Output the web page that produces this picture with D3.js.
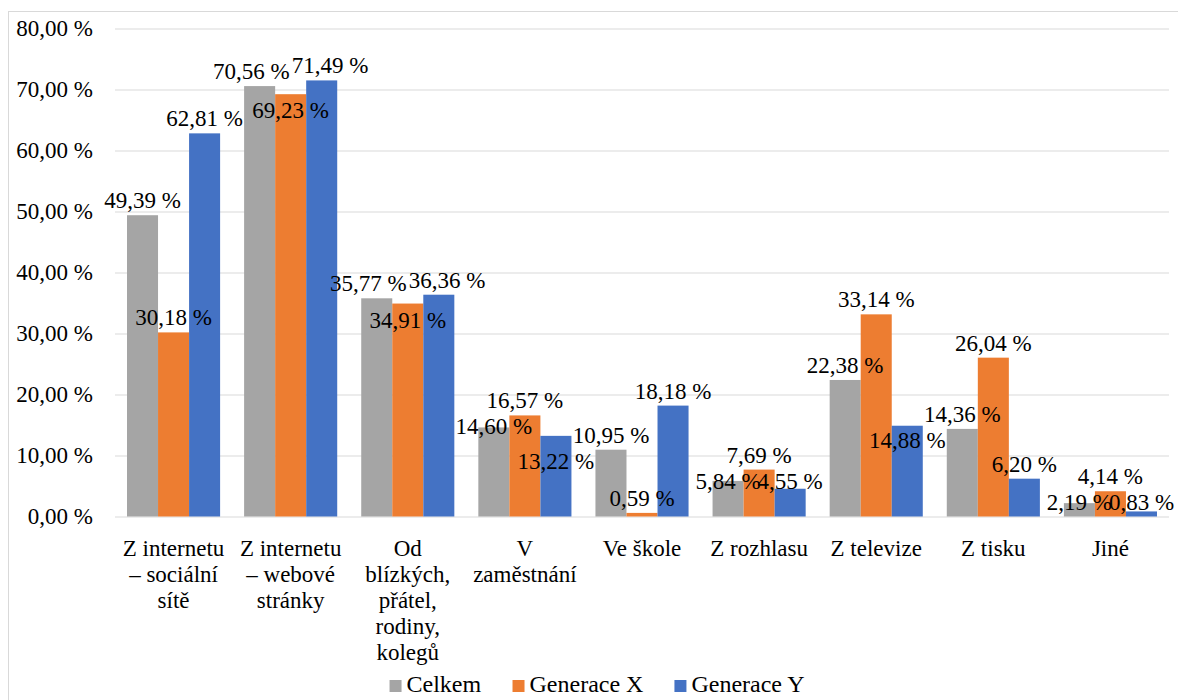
<!DOCTYPE html>
<html>
<head>
<meta charset="utf-8">
<script src="https://cdn.jsdelivr.net/npm/d3@7"></script>
<style>
  body { margin: 0; background: #fff; }
  svg { display: block; }
</style>
</head>
<body>
<svg width="1178" height="700"></svg>
<script>
// data
var categories = [
  "Z internetu\n– sociální\nsítě",
  "Z internetu\n– webové\nstránky",
  "Od\nblízkých,\npřátel,\nrodiny,\nkolegů",
  "V\nzaměstnání",
  "Ve škole",
  "Z rozhlasu",
  "Z televize",
  "Z tisku",
  "Jiné"
];
var seriesNames = ["Celkem", "Generace X", "Generace Y"];
var celkem   = [49.39, 70.56, 35.77, 14.60, 10.95, 5.84, 22.38, 14.36, 2.19];
var generaceX = [30.18, 69.23, 34.91, 16.57, 0.59, 7.69, 33.14, 26.04, 4.14];
var generaceY = [62.81, 71.49, 36.36, 13.22, 18.18, 4.55, 14.88, 6.20, 0.83];
var yTicks = [0, 10, 20, 30, 40, 50, 60, 70, 80];
var colors = ["#A5A5A5", "#ED7D31", "#4472C4"];

var values = [celkem, generaceX, generaceY];
var fontName = "Liberation Serif";
var svg = d3.select("svg").style("font-family", fontName);
var fs = 23;

var cz = d3.formatLocale({decimal: ",", thousands: " ", grouping: [3], currency: ["", " Kč"]});
var fmt = function(v) { return cz.format(".2f")(v) + " %"; };

// outer chart border
svg.append("rect")
  .attr("x", 8.5).attr("y", 11.5)
  .attr("width", 1180).attr("height", 700)
  .attr("fill", "none").attr("stroke", "#D9D9D9");

var plotLeft = 115, plotRight = 1169, plotTop = 28.5, plotBottom = 516.5;

var x = d3.scaleBand().domain(categories).range([plotLeft, plotRight])
  .paddingInner(0.205).paddingOuter(0.1025);
var xs = d3.scaleBand().domain(d3.range(seriesNames.length)).range([0, x.bandwidth()]);
var y = d3.scaleLinear().domain([0, 80]).range([plotBottom, plotTop]);

// y axis + gridlines
var yAxis = svg.append("g")
  .attr("transform", "translate(" + plotLeft + ",0)")
  .call(d3.axisLeft(y).tickValues(yTicks)
    .tickSizeInner(-(plotRight - plotLeft)).tickSizeOuter(0).tickPadding(22)
    .tickFormat(function(d) { return fmt(d); }));
yAxis.attr("font-family", fontName).attr("font-size", fs);
yAxis.select(".domain").remove();
yAxis.selectAll("line").attr("stroke", "#D9D9D9").attr("stroke-width", 1.2);
yAxis.selectAll("text").attr("fill", "#000");

// x axis labels
var xAxis = svg.append("g")
  .attr("transform", "translate(0," + plotBottom + ")")
  .call(d3.axisBottom(x).tickSize(0).tickFormat(""));
xAxis.attr("font-family", fontName).attr("font-size", fs);
xAxis.select(".domain").remove();
xAxis.selectAll(".tick text").remove();
xAxis.selectAll(".tick").append("text")
  .attr("fill", "#000")
  .attr("text-anchor", "middle")
  .each(function(d) {
    var t = d3.select(this);
    d.split("\n").forEach(function(line, i) {
      t.append("tspan").attr("x", 0).attr("y", 39.5 + i * 26).text(line);
    });
  });

// bars
var groups = svg.selectAll("g.grp").data(categories).enter().append("g")
  .attr("class", "grp")
  .attr("transform", function(d) { return "translate(" + x(d) + ",0)"; });

groups.selectAll("rect").data(function(d, ci) {
  return values.map(function(arr, si) { return {s: si, v: arr[ci]}; });
}).enter().append("rect")
  .attr("x", function(d) { return xs(d.s); })
  .attr("y", function(d) { return y(d.v); })
  .attr("width", xs.bandwidth())
  .attr("height", function(d) { return plotBottom - y(d.v); })
  .attr("fill", function(d) { return colors[d.s]; });

// data labels, placed above the bars, then nudged where they collide
var labelLayer = svg.append("g");
var allLabels = [];
categories.forEach(function(cat, ci) {
  values.forEach(function(arr, si) {
    var t = labelLayer.append("text")
      .attr("font-size", fs).attr("fill", "#000")
      .attr("text-anchor", "middle")
      .text(fmt(arr[ci]));
    allLabels.push({c: ci, s: si, v: arr[ci], node: t, w: t.node().getComputedTextLength(),
                    cx: x(cat) + xs(si) + xs.bandwidth() / 2, dx: 0, moved: false});
  });
});
function x0(l) { return l.cx + l.dx - l.w / 2; }
function x1(l) { return l.cx + l.dx + l.w / 2; }
function bt(l) { return l.base - 20; }
function bb(l) { return l.base + 5; }

var order = allLabels.slice().sort(function(a, b) {
  return (b.c - a.c) || (b.v - a.v);
});
var placed = [];
order.forEach(function(lab) {
  lab.base = y(lab.v) - 7;
  var changed = true, guard = 0;
  while (changed && guard++ < 30) {
    changed = false;
    for (var k = 0; k < placed.length; k++) {
      var p = placed[k];
      var hov = Math.min(x1(lab), x1(p)) - Math.max(x0(lab), x0(p));
      var vov = Math.min(bb(lab), bb(p)) - Math.max(bt(lab), bt(p));
      if (hov > 4 && vov > 0) {
        var sameGroup = lab.c === p.c;
        var adjacent = sameGroup && Math.abs(lab.s - p.s) === 1;
        if (sameGroup && !adjacent && (!p.moved || hov <= 12)) {
          var sh = hov / 2 + 1;
          if (lab.cx > p.cx) { lab.dx += sh; p.dx -= sh; }
          else { lab.dx -= sh; p.dx += sh; }
        } else {
          var nb = bb(p) + 21;
          if (sameGroup && p.dx !== 0) nb = Math.max(nb, y(lab.v) + 24);
          lab.base = nb;
          lab.moved = true;
        }
        changed = true;
        break;
      }
    }
  }
  placed.push(lab);
});
allLabels.forEach(function(l) {
  l.node.attr("x", l.cx + l.dx).attr("y", l.base);
});

// legend
var legend = svg.append("g");
var items = legend.selectAll("g").data(seriesNames).enter().append("g");
items.append("rect").attr("width", 12).attr("height", 12).attr("y", 680)
  .attr("fill", function(d, i) { return colors[i]; });
items.append("text").attr("x", 17).attr("y", 692)
  .attr("font-size", 24).attr("fill", "#000")
  .text(function(d) { return d; });
var widths = [];
items.each(function() { widths.push(this.getBBox().width); });
var gap = 31;
var total = d3.sum(widths) + gap * (widths.length - 1);
var pos = 597 - total / 2;
items.attr("transform", function(d, i) {
  var p = pos; pos += widths[i] + gap;
  return "translate(" + p + ",0)";
});
</script>
</body>
</html>
